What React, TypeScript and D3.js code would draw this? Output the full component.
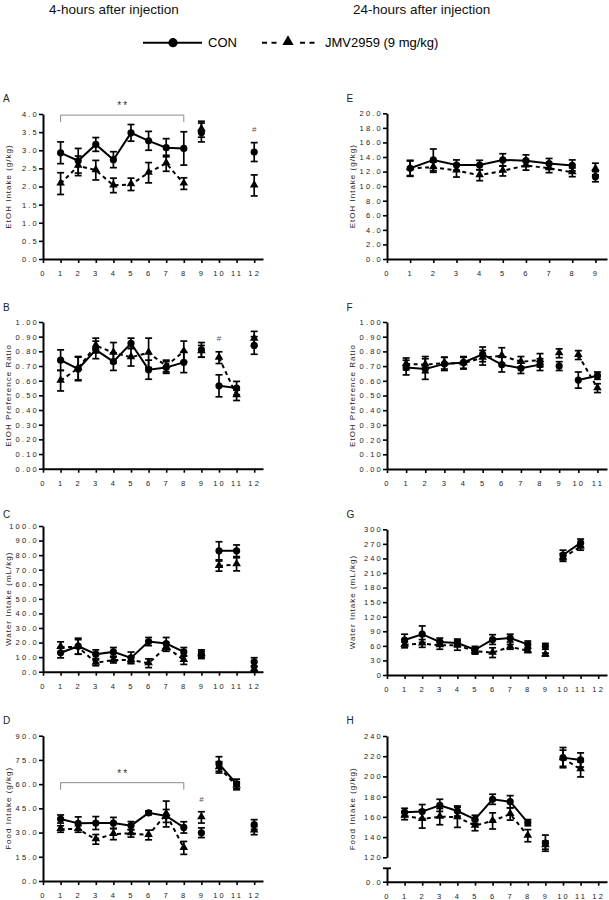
import React, { useEffect, useRef } from 'react';
import * as d3 from 'd3';

// ---- data ----
const days12 = [1, 2, 3, 4, 5, 6, 7, 8, 9, 10, 11, 12];
const days11 = [1, 2, 3, 4, 5, 6, 7, 8, 9, 10, 11];
const days9 = [1, 2, 3, 4, 5, 6, 7, 8, 9];

// A: EtOH intake, 4h
const aCon = [2.93, 2.71, 3.16, 2.74, 3.48, 3.26, 3.07, 3.05, 3.49, null, null, 2.95];
const aConErr = [0.3, 0.34, 0.19, 0.22, 0.23, 0.26, 0.25, 0.46, 0.26, null, null, 0.26];
const aJmv = [2.08, 2.57, 2.45, 2.03, 2.06, 2.38, 2.64, 2.08, 3.58, null, null, 2.03];
const aJmvErr = [0.3, 0.27, 0.27, 0.2, 0.17, 0.28, 0.22, 0.16, 0.22, null, null, 0.29];

// B: EtOH preference, 4h
const bCon = [0.74, 0.68, 0.81, 0.73, 0.855, 0.675, 0.69, 0.725, 0.81, 0.565, 0.55, 0.84];
const bConErr = [0.07, 0.08, 0.06, 0.06, 0.035, 0.065, 0.04, 0.07, 0.05, 0.075, 0.045, 0.06];
const bJmv = [0.6, 0.685, 0.84, 0.79, 0.76, 0.79, 0.7, 0.8, 0.8, 0.757, 0.5, 0.886];
const bJmvErr = [0.07, 0.08, 0.05, 0.07, 0.06, 0.1, 0.04, 0.07, 0.04, 0.04, 0.035, 0.05];

// C: water intake, 4h
const cCon = [13.0, 17.5, 12.0, 13.6, 9.5, 20.7, 19.3, 13.6, 12.0, 83.0, 83.0, 6.8];
const cConErr = [3.5, 5.5, 3.0, 3.0, 4.0, 2.8, 4.2, 3.0, 3.0, 6.2, 4.0, 2.8];
const cJmv = [17.0, 17.0, 6.1, 8.0, 8.0, 5.8, 17.0, 8.0, 12.0, 72.5, 73.7, 1.6];
const cJmvErr = [3.5, 5.0, 2.0, 2.0, 2.0, 3.0, 3.0, 3.0, 2.0, 3.5, 4.5, 1.5];

// D: food intake, 4h
const dCon = [38.4, 35.7, 35.9, 35.9, 34.3, 42.2, 40.3, 33.2, 29.9, 72.5, 60.1, 35.0];
const dConErr = [2.5, 4.0, 4.0, 3.5, 2.5, 1.2, 4.0, 3.5, 3.0, 4.5, 3.0, 3.0];
const dJmv = [32.2, 32.2, 25.8, 29.1, 29.5, 28.5, 41.5, 20.5, 39.4, 70.4, 59.0, 31.2];
const dJmvErr = [2.0, 2.0, 3.0, 3.5, 2.3, 3.0, 8.0, 4.0, 3.5, 3.5, 2.5, 2.5];

// E: EtOH intake, 24h
const eCon = [12.45, 13.6, 12.9, 12.9, 13.6, 13.5, 13.1, 12.85, 11.3];
const eConErr = [1.1, 1.5, 0.7, 0.65, 0.85, 0.8, 0.7, 0.75, 0.7];
const eJmv = [12.45, 12.6, 12.15, 11.5, 12.1, 12.85, 12.45, 11.9, 12.35];
const eJmvErr = [1.0, 0.7, 0.9, 0.75, 0.7, 0.65, 0.6, 0.6, 0.8];

// F: EtOH preference, 24h
const fCon = [0.69, 0.68, 0.715, 0.725, 0.78, 0.71, 0.685, 0.71, 0.7, 0.605, 0.635];
const fConErr = [0.05, 0.07, 0.045, 0.04, 0.05, 0.05, 0.035, 0.04, 0.03, 0.055, 0.025];
const fJmv = [0.715, 0.71, 0.72, 0.72, 0.757, 0.77, 0.73, 0.74, 0.787, 0.775, 0.55];
const fJmvErr = [0.04, 0.055, 0.04, 0.04, 0.05, 0.055, 0.035, 0.045, 0.03, 0.03, 0.03];

// G: water intake, 24h
const gCon = [72, 84, 68, 66, 52, 73, 76, 63, 59, 247, 272];
const gConErr = [12, 17, 8, 8, 7, 10, 8, 7, 6, 10, 8];
const gJmv = [62, 65, 61, 61, 49, 46, 58, 50, 42, 242, 264];
const gJmvErr = [6, 8, 8, 10, 6, 10, 5, 4, 3, 8, 7];

// H: food intake, 24h
const hCon = [164.5, 165.2, 171.4, 165.8, 157.6, 177.4, 175.0, 154.3, 134, 218.6, 216.3];
const hConErr = [4, 7, 6, 5, 4, 5, 6, 3, 8, 10, 7];
const hJmv = [161.2, 157.9, 160.2, 159.6, 151.3, 156, 162.8, 141.4, 132, 218, 207];
const hJmvErr = [4, 9, 8, 10, 5, 8, 6, 6, 4, 8, 7.5];

// connected runs of days
const segsMain = [[1, 8]];
const segsBoth = [[1, 8], [10, 11]];

const yTicksA = d3.range(0, 4.01, 0.5);
const yTicksB = d3.range(0, 1.001, 0.1);
const yTicksC = d3.range(0, 100.1, 10);
const yTicksD = d3.range(0, 90.1, 15);
const yTicksE = d3.range(0, 20.1, 2);
const yTicksG = d3.range(0, 301, 30);
const yTicksH = d3.range(120, 241, 20);

const FONT = '"Liberation Sans", Arial, Helvetica, sans-serif';

const panels = [
  { id: 'A', x0: 43, top: 114, bottom: 259, xMax: 12.5, nX: 12, yDom: [0, 4], yTicks: yTicksA, fmt: '.1f', title: 'EtOH Intake (g/kg)', days: days12, con: aCon, conErr: aConErr, jmv: aJmv, jmvErr: aJmvErr, segs: segsMain, lx: 3, ly: 101.7 },
  { id: 'B', x0: 43, top: 322, bottom: 468.7, xMax: 12.5, nX: 12, yDom: [0, 1], yTicks: yTicksB, fmt: '.2f', title: 'EtOH Preference Ratio', days: days12, con: bCon, conErr: bConErr, jmv: bJmv, jmvErr: bJmvErr, segs: segsBoth, lx: 3, ly: 310.7 },
  { id: 'C', x0: 43, top: 526, bottom: 671.7, xMax: 12.5, nX: 12, yDom: [0, 100], yTicks: yTicksC, fmt: '.1f', title: 'Water Intake (mL/kg)', days: days12, con: cCon, conErr: cConErr, jmv: cJmv, jmvErr: cJmvErr, segs: segsBoth, lx: 3, ly: 518 },
  { id: 'D', x0: 43, top: 735.7, bottom: 881, xMax: 12.5, nX: 12, yDom: [0, 90], yTicks: yTicksD, fmt: '.1f', title: 'Food Intake (g/kg)', days: days12, con: dCon, conErr: dConErr, jmv: dJmv, jmvErr: dJmvErr, segs: segsBoth, lx: 3, ly: 724 },
  { id: 'E', x0: 387, top: 113.3, bottom: 259, xMax: 9.5, nX: 9, yDom: [0, 20], yTicks: yTicksE, fmt: '.1f', title: 'EtOH Intake (g/kg)', days: days9, con: eCon, conErr: eConErr, jmv: eJmv, jmvErr: eJmvErr, segs: segsMain, lx: 346.5, ly: 102 },
  { id: 'F', x0: 387, top: 322, bottom: 469, xMax: 11.5, nX: 11, yDom: [0, 1], yTicks: yTicksB, fmt: '.2f', title: 'EtOH Preference Ratio', days: days11, con: fCon, conErr: fConErr, jmv: fJmv, jmvErr: fJmvErr, segs: segsBoth, lx: 346.5, ly: 310.7 },
  { id: 'G', x0: 387, top: 529.3, bottom: 675, xMax: 12.5, nX: 12, yDom: [0, 300], yTicks: yTicksG, fmt: 'd', title: 'Water Intake (mL/kg)', days: days11, con: gCon, conErr: gConErr, jmv: gJmv, jmvErr: gJmvErr, segs: segsBoth, lx: 346.5, ly: 518 },
  { id: 'H', x0: 387, top: 736, bottom: 857.3, xMax: 12.5, nX: 12, yDom: [120, 240], yTicks: yTicksH, fmt: 'd', title: 'Food Intake (g/kg)', days: days11, con: hCon, conErr: hConErr, jmv: hJmv, jmvErr: hJmvErr, segs: segsBoth, lx: 346.5, ly: 724, brokenAxis: { bottom: 881.7, top: 868.3 } },
];

// brackets "**" and "#" marks
const brackets = [
  { panel: 'A', from: 1, to: 8, at: 3.97 },
  { panel: 'D', from: 1, to: 8, at: 60.9 },
];
const hashes = [
  { panel: 'A', day: 12, at: 3.57 },
  { panel: 'B', day: 10, at: 0.885 },
  { panel: 'D', day: 9, at: 50.5 },
];

const AXIS_W = 220;

export default function App() {
  const ref = useRef<SVGSVGElement>(null);

  useEffect(() => {
    const svg = d3.select(ref.current);
    svg.selectAll('*').remove();

    // headers
    svg.append('text').attr('x', 49).attr('y', 13.5).style('font-size', '13.5px').attr('fill', '#111').text('4-hours after injection');
    svg.append('text').attr('x', 353).attr('y', 13.5).style('font-size', '13.5px').attr('fill', '#111').text('24-hours after injection');

    // legend
    const lg = svg.append('g');
    lg.append('line').attr('x1', 143).attr('x2', 202).attr('y1', 42.7).attr('y2', 42.7).attr('stroke', '#000').attr('stroke-width', 2);
    lg.append('circle').attr('cx', 173).attr('cy', 42.7).attr('r', 4.6).attr('fill', '#000');
    lg.append('text').attr('x', 208).attr('y', 47.3).style('font-size', '13px').text('CON');
    lg.append('line').attr('x1', 262).attr('x2', 316).attr('y1', 42.7).attr('y2', 42.7).attr('stroke', '#000').attr('stroke-width', 2).attr('stroke-dasharray', '5,4.5');
    lg.append('rect').attr('x', 280).attr('y', 36).attr('width', 16).attr('height', 12).attr('fill', '#fff');
    lg.append('path').attr('d', d3.symbol(d3.symbolTriangle, 55)()).attr('transform', 'translate(288,41.7)').attr('fill', '#000');
    lg.append('text').attr('x', 325).attr('y', 47.3).style('font-size', '13px').text('JMV2959 (9 mg/kg)');

    const scales: Record<string, any> = {};

    panels.forEach((p) => {
      const g = svg.append('g');
      const x = d3.scaleLinear().domain([0, p.xMax]).range([p.x0, p.x0 + AXIS_W]);
      const y = d3.scaleLinear().domain(p.yDom).range([p.bottom, p.top]);
      scales[p.id] = { x, y };
      const axisY = p.brokenAxis ? p.brokenAxis.bottom : p.bottom;

      // panel letter
      g.append('text').attr('x', p.lx).attr('y', p.ly).style('font-size', '10px').attr('fill', '#222').text(p.id);

      // y title
      const cy = p.brokenAxis ? (p.top + p.brokenAxis.bottom) / 2 : (p.top + p.bottom) / 2;
      g.append('text')
        .attr('transform', `translate(${p.x0 - 35},${cy}) rotate(-90)`)
        .attr('text-anchor', 'middle')
        .attr('dominant-baseline', 'central')
        .style('font-size', '8px')
        .style('letter-spacing', '1px')
        .attr('fill', '#222')
        .text(p.title);

      // axes
      const yAx = g.append('g').attr('transform', `translate(${p.x0},0)`)
        .call(d3.axisLeft(y).tickValues(p.yTicks).tickFormat(d3.format(p.fmt)).tickSize(4).tickSizeOuter(0).tickPadding(0));
      const xAx = g.append('g').attr('transform', `translate(0,${axisY})`)
        .call(d3.axisBottom(x).tickValues(d3.range(0, p.nX + 1)).tickFormat(d3.format('d')).tickSize(4).tickSizeOuter(0).tickPadding(7.5));
      const axes = [yAx, xAx];

      if (p.brokenAxis) {
        const yLow = d3.scaleLinear().domain([0, 8]).range([p.brokenAxis.bottom, p.brokenAxis.top]);
        const low = g.append('g').attr('transform', `translate(${p.x0},0)`)
          .call(d3.axisLeft(yLow).tickValues([0]).tickFormat(d3.format('.1f')).tickSize(4).tickSizeOuter(0).tickPadding(0));
        axes.push(low);
        g.append('line').attr('x1', p.x0 - 4).attr('x2', p.x0 + 4)
          .attr('y1', p.brokenAxis.top).attr('y2', p.brokenAxis.top)
          .attr('stroke', '#000').attr('stroke-width', 1.8);
      }

      axes.forEach((a) => {
        a.select('.domain').attr('stroke-width', 2).attr('stroke', '#000');
        a.selectAll('.tick line').attr('stroke-width', 1.6).attr('stroke', '#000');
        a.selectAll('.tick text')
          .style('font-size', '7.5px')
          .style('letter-spacing', '2.2px')
          .style('font-family', FONT)
          .attr('fill', '#222');
      });

      const pts = (vals, errs) =>
        p.days.map((d, i) => ({ day: d, v: vals[i], e: errs[i] })).filter((o) => o.v != null);

      const conPts = pts(p.con, p.conErr);
      const jmvPts = pts(p.jmv, p.jmvErr);

      const line = d3.line<any>().x((d) => x(d.day)).y((d) => y(d.v));

      // connecting lines
      p.segs.forEach(([s, e]) => {
        g.append('path')
          .datum(jmvPts.filter((o) => o.day >= s && o.day <= e))
          .attr('d', line)
          .attr('fill', 'none')
          .attr('stroke', '#000')
          .attr('stroke-width', 2)
          .attr('stroke-dasharray', '4,3.5');
        g.append('path')
          .datum(conPts.filter((o) => o.day >= s && o.day <= e))
          .attr('d', line)
          .attr('fill', 'none')
          .attr('stroke', '#000')
          .attr('stroke-width', 2);
      });

      // error bars
      [...jmvPts, ...conPts].forEach((o) => {
        const cx = x(o.day);
        const y1 = y(o.v + o.e);
        const y2 = y(o.v - o.e);
        const eb = g.append('g').attr('stroke', '#000').attr('stroke-width', 1.7);
        eb.append('line').attr('x1', cx).attr('x2', cx).attr('y1', y1).attr('y2', y2);
        eb.append('line').attr('x1', cx - 3.5).attr('x2', cx + 3.5).attr('y1', y1).attr('y2', y1);
        eb.append('line').attr('x1', cx - 3.5).attr('x2', cx + 3.5).attr('y1', y2).attr('y2', y2);
      });

      // markers
      g.selectAll('.tri')
        .data(jmvPts)
        .enter()
        .append('path')
        .attr('d', d3.symbol(d3.symbolTriangle, 32)())
        .attr('transform', (d) => `translate(${x(d.day)},${y(d.v) - 0.5})`)
        .attr('fill', '#000');
      g.selectAll('.dot')
        .data(conPts)
        .enter()
        .append('circle')
        .attr('cx', (d) => x(d.day))
        .attr('cy', (d) => y(d.v))
        .attr('r', 3.6)
        .attr('fill', '#000');
    });

    // significance brackets
    brackets.forEach((b) => {
      const { x, y } = scales[b.panel];
      const yy = y(b.at);
      svg.append('path')
        .attr('d', `M${x(b.from)},${yy + 7}V${yy}H${x(b.to)}V${yy + 7}`)
        .attr('fill', 'none')
        .attr('stroke', '#8a8a8a')
        .attr('stroke-width', 1);
      svg.append('text')
        .attr('x', (x(b.from) + x(b.to)) / 2 + 1)
        .attr('y', yy - 6)
        .attr('text-anchor', 'middle')
        .style('font-size', '10px')
        .style('letter-spacing', '2px')
        .attr('fill', '#333')
        .text('**');
    });

    hashes.forEach((h) => {
      const { x, y } = scales[h.panel];
      svg.append('text')
        .attr('x', x(h.day))
        .attr('y', y(h.at))
        .attr('text-anchor', 'middle')
        .attr('dominant-baseline', 'central')
        .style('font-size', '8px')
        .attr('fill', '#555')
        .text('#');
    });
  }, []);

  return (
    <svg
      ref={ref}
      width={609}
      height={900}
      style={{ position: 'absolute', left: 0, top: 0, background: '#fff', fontFamily: FONT }}
    />
  );
}
